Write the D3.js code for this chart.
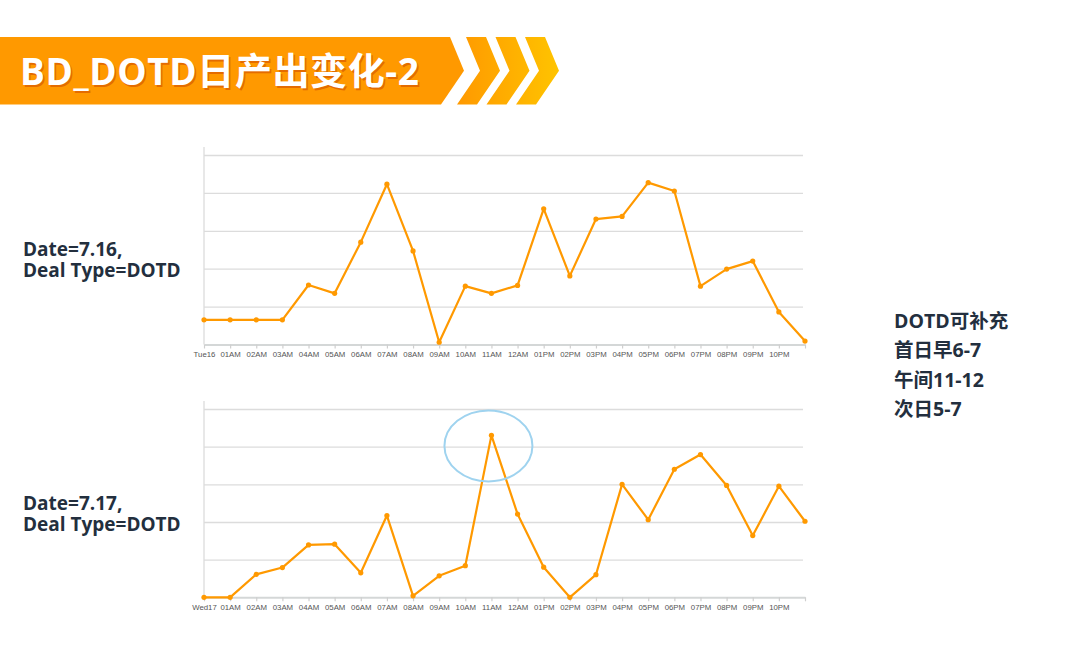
<!DOCTYPE html>
<html>
<head>
<meta charset="utf-8">
<script src="https://cdn.jsdelivr.net/npm/d3@7"></script>
<style>
  html, body { margin: 0; padding: 0; background: #fff; }
  svg { display: block; }
</style>
</head>
<body>
<div id="container"></div>
<script>
// hour slots 0..23, the last one carries no label
var hours = d3.range(24);
var labels716 = ["Tue16","01AM","02AM","03AM","04AM","05AM","06AM","07AM","08AM","09AM","10AM","11AM",
                 "12AM","01PM","02PM","03PM","04PM","05PM","06PM","07PM","08PM","09PM","10PM",""];
var labels717 = ["Wed17","01AM","02AM","03AM","04AM","05AM","06AM","07AM","08AM","09AM","10AM","11AM",
                 "12AM","01PM","02PM","03PM","04PM","05PM","06PM","07PM","08PM","09PM","10PM",""];
// values in grid units (gridlines have no labels in the source)
var values716 = [0.65,0.65,0.65,0.65,1.57,1.35,2.70,4.23,2.47,0.06,1.54,1.35,
                 1.56,3.58,1.81,3.31,3.38,4.27,4.05,1.54,1.99,2.20,0.86,0.09];
var values717 = [0,0,0.61,0.79,1.39,1.41,0.65,2.17,0.04,0.57,0.84,4.30,
                 2.21,0.80,0,0.60,3.00,2.06,3.40,3.79,2.97,1.64,2.95,2.02];
var highlight717 = {index: 11, value: 4.02};
var noteLines = ["DOTD可补充","首日早6-7","午间11-12","次日5-7"];

var W = 1080, H = 651;
var navy = "#232f3e", orange = "#ff9900";
var font = "'Open Sans', 'Noto Sans CJK SC', sans-serif";

var svg = d3.select("#container").append("svg")
    .attr("width", W).attr("height", H);

// ---- title banner
var defs = svg.append("defs");
var grad = defs.append("linearGradient").attr("id", "chev")
    .attr("gradientUnits", "userSpaceOnUse")
    .attr("x1", 460).attr("x2", 560).attr("y1", 0).attr("y2", 0);
grad.append("stop").attr("offset", 0).attr("stop-color", "#ff9a00");
grad.append("stop").attr("offset", 1).attr("stop-color", "#ffc400");

var bTop = 37, bBot = 104.5, bMid = 70.7;
svg.append("path")
    .attr("d", "M0," + bTop + "L450," + bTop + "L464," + bMid + "L441," + bBot + "L0," + bBot + "Z")
    .attr("fill", orange);
[466, 495.5, 525].forEach(function(a) {
    svg.append("path")
        .attr("d", "M" + a + "," + bTop + "L" + (a + 20) + "," + bTop + "L" + (a + 34) + "," + bMid +
                   "L" + (a + 11) + "," + bBot + "L" + (a - 9) + "," + bBot + "L" + (a + 14) + "," + bMid + "Z")
        .attr("fill", "url(#chev)");
});

var title = "BD_DOTD日产出变化-2";
svg.append("text").attr("x", 21.5).attr("y", 86.8)
    .style("font-family", font).style("font-weight", 700).style("font-size", "37px")
    .style("letter-spacing", "0.6px")
    .attr("fill", "#e46c00").text(title);
svg.append("text").attr("x", 20).attr("y", 85)
    .style("font-family", font).style("font-weight", 700).style("font-size", "37px")
    .style("letter-spacing", "0.6px")
    .attr("fill", "#fff").text(title);

// ---- side labels
function sideLabel(y, lines) {
    svg.append("g").selectAll("text").data(lines).enter().append("text")
        .attr("x", 23).attr("y", function(d, i) { return y + i * 21; })
        .style("font-family", font).style("font-weight", 700).style("font-size", "19px")
        .attr("fill", navy).text(function(d) { return d; });
}
sideLabel(256, ["Date=7.16,", "Deal Type=DOTD"]);
sideLabel(510, ["Date=7.17,", "Deal Type=DOTD"]);

svg.append("g").selectAll("text").data(noteLines).enter().append("text")
    .attr("x", 894).attr("y", function(d, i) { return 328 + i * 29.4; })
    .style("font-family", font).style("font-weight", 700).style("font-size", "19.5px")
    .attr("fill", navy).text(function(d) { return d; });

// ---- line charts
function lineChart(values, labels, top, base) {
    var x = d3.scalePoint().domain(hours).range([204, 805]);
    var y = d3.scaleLinear().domain([0, 5]).range([base, top]);
    var g = svg.append("g");

    // gridlines
    var grid = g.append("g").attr("transform", "translate(204,0)")
        .call(d3.axisLeft(y).ticks(5).tickSize(-599).tickFormat(""));
    grid.select(".domain").remove();
    grid.selectAll(".tick").filter(function(d) { return d === 0; }).remove();
    grid.selectAll(".tick line").attr("stroke", "#dcdcdc").attr("stroke-width", 1.3);

    // left axis line
    g.append("line").attr("x1", 204).attr("x2", 204)
        .attr("y1", top - 8).attr("y2", base)
        .attr("stroke", "#dcdcdc").attr("stroke-width", 1.3);

    // bottom axis
    var ax = g.append("g").attr("transform", "translate(0," + base + ")")
        .call(d3.axisBottom(x).tickSize(4).tickSizeOuter(0)
            .tickFormat(function(i) { return labels[i]; }));
    ax.select(".domain").attr("stroke", "#d4d7d7").attr("stroke-width", 2);
    ax.selectAll(".tick line").attr("stroke", "#cfcfcf").attr("stroke-width", 1.2);
    ax.selectAll(".tick text").attr("y", 7)
        .style("font-family", "'Liberation Sans', Arial, sans-serif")
        .style("font-size", "7.8px").attr("fill", "#555");

    var line = d3.line().x(function(d, i) { return x(i); }).y(function(d) { return y(d); });
    g.append("path").datum(values).attr("d", line)
        .attr("fill", "none").attr("stroke", orange).attr("stroke-width", 2.2)
        .attr("stroke-linejoin", "round");
    g.selectAll("circle.pt").data(values).enter().append("circle")
        .attr("class", "pt")
        .attr("cx", function(d, i) { return x(i); })
        .attr("cy", function(d) { return y(d); })
        .attr("r", 2.6).attr("fill", orange);

    return {x: x, y: y, g: g};
}

lineChart(values716, labels716, 155, 344.5);
var c2 = lineChart(values717, labels717, 409, 597.3);

// highlight ellipse around the 11AM spike
c2.g.append("ellipse")
    .attr("cx", c2.x(highlight717.index) - 3)
    .attr("cy", c2.y(highlight717.value))
    .attr("rx", 44).attr("ry", 35.5)
    .attr("fill", "none").attr("stroke", "#9fd3ef").attr("stroke-width", 2);
</script>
</body>
</html>
